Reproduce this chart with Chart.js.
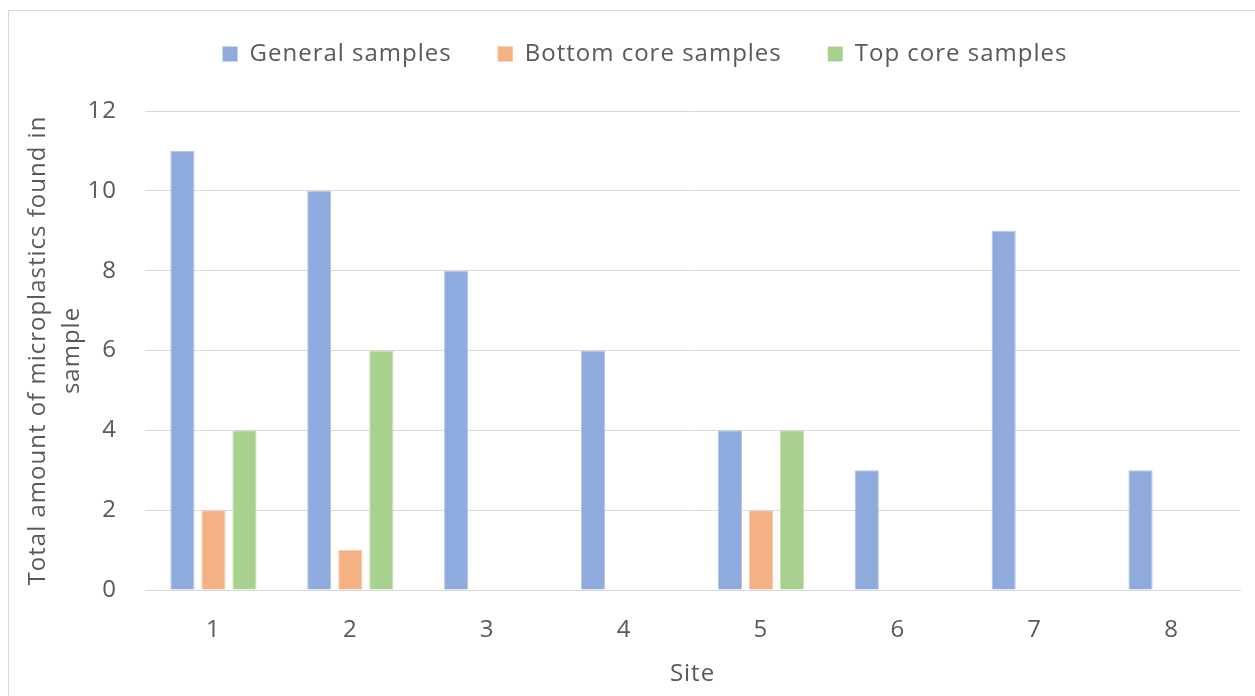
<!DOCTYPE html>
<html>
<head>
<meta charset="utf-8">
<script src="https://cdn.jsdelivr.net/npm/chart.js@4"></script>
<style>
  html, body { margin: 0; padding: 0; background: #ffffff; }
  body { width: 1255px; height: 696px; overflow: hidden; position: relative; }
  #frame { position: absolute; left: 8px; top: 10px; width: 1270px; height: 720px; border: 1px solid #d9d9d9; box-sizing: border-box; }
  #c { position: absolute; left: 0; top: 0; }
</style>
</head>
<body>
<div id="frame"></div>
<canvas id="c" width="1255" height="696"></canvas>
<script>
const sites = ['1', '2', '3', '4', '5', '6', '7', '8'];
const generalSamples = [11, 10, 8, 6, 4, 3, 9, 3];
const bottomCoreSamples = [2, 1, 0, 0, 2, 0, 0, 0];
const topCoreSamples = [4, 6, 0, 0, 4, 0, 0, 0];
const seriesNames = ['General samples', 'Bottom core samples', 'Top core samples'];
const yTitleLines = ['Total amount of microplastics found in', 'sample'];
const xTitle = 'Site';

const FONT = '"Open Sans", "Noto Sans", sans-serif';
const GREY = '#595959';
const FS = 24;

const textTweaks = {
  id: 'textTweaks',
  beforeInit(chart) {
    const lg = chart.legend;
    if (lg) {
      const orig = lg.fit;
      lg.fit = function () { orig.call(this); this.height += 35; };
    }
  },
  beforeUpdate(chart) { chart.ctx.letterSpacing = '1px'; },
  afterLayout(chart) {
    const lg = chart.legend;
    if (lg) { lg.left += 25; lg.right += 25; }
  },
  beforeDraw(chart) { chart.ctx.letterSpacing = '1px'; }
};

new Chart(document.getElementById('c'), {
  type: 'bar',
  data: {
    labels: sites,
    datasets: [
      { label: seriesNames[0], data: generalSamples, backgroundColor: '#8FAADC', borderColor: '#B4C7E7', borderWidth: 1 },
      { label: seriesNames[1], data: bottomCoreSamples, backgroundColor: '#F4B183', borderColor: '#F8CBAD', borderWidth: 1 },
      { label: seriesNames[2], data: topCoreSamples, backgroundColor: '#A9D18E', borderColor: '#C5E0B4', borderWidth: 1 }
    ]
  },
  plugins: [textTweaks],
  options: {
    responsive: false,
    animation: false,
    devicePixelRatio: 1,
    layout: { padding: { left: 0, right: 15, top: -4, bottom: 0 } },
    datasets: { bar: { categoryPercentage: 0.68, barPercentage: 0.78 } },
    plugins: {
      tooltip: { enabled: false },
      legend: {
        position: 'top',
        labels: {
          color: GREY,
          font: { family: FONT, size: FS },
          boxWidth: 15,
          boxHeight: 15,
          padding: 46,
          generateLabels(chart) {
            const items = Chart.defaults.plugins.legend.labels.generateLabels(chart);
            items.forEach(it => { it.lineWidth = 0; it.strokeStyle = 'rgba(0,0,0,0)'; });
            return items;
          }
        }
      }
    },
    scales: {
      x: {
        grid: { display: false, drawTicks: false },
        border: { display: true, color: '#d9d9d9', width: 1 },
        ticks: { color: GREY, font: { family: FONT, size: FS }, padding: 26 },
        title: { display: true, text: xTitle, color: GREY, font: { family: FONT, size: FS }, padding: { top: 0, bottom: 7 } },
        afterFit(scale) { scale.height = 106; }
      },
      y: {
        min: 0,
        max: 12,
        ticks: { stepSize: 2, color: GREY, font: { family: FONT, size: FS }, padding: 28 },
        grid: { color: '#d9d9d9', lineWidth: 1, drawTicks: false },
        border: { display: false },
        title: { display: true, text: yTitleLines, color: GREY, font: { family: FONT, size: FS, lineHeight: 1.42 }, padding: { top: 21, bottom: 0 } },
        afterFit(scale) { scale.width = 145; }
      }
    }
  }
});
</script>
</body>
</html>
